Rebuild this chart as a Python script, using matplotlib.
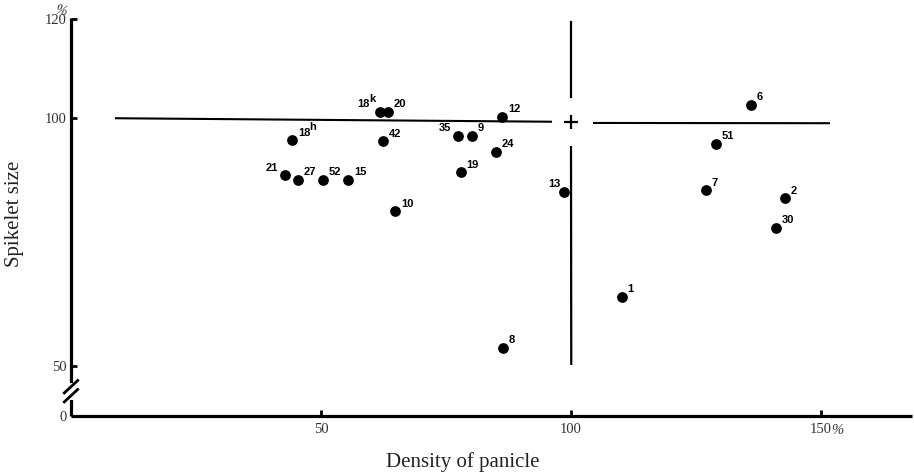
import matplotlib
matplotlib.use('Agg')
import matplotlib.pyplot as plt

# density of panicle (%) and spikelet size (%) for each line
names = ['18', '21', '27', '52', '15', '18', '20', '42', '10', '35', '9',
         '12', '24', '19', '8', '13', '1', '6', '51', '7', '2', '30']
sups = ['h', '', '', '', '', 'k', '', '', '', '', '',
        '', '', '', '', '', '', '', '', '', '', '']
density = [44.2, 42.7, 45.3, 50.3, 55.4, 61.8, 63.4, 62.4, 64.8, 77.3, 80.2,
           86.2, 84.9, 77.9, 86.3, 98.5, 110.1, 135.9, 128.9, 126.9, 142.7, 140.9]
spikelet = [95.6, 88.5, 87.6, 87.6, 87.6, 101.3, 101.3, 95.4, 81.3, 96.5, 96.5,
            100.3, 93.2, 89.1, 53.8, 85.2, 64.0, 102.7, 94.9, 85.5, 83.9, 77.9]
# labels written on the left side of the dot
left_side = [False, True, False, False, False, True, False, False, False, True, False,
             False, False, False, False, True, False, False, False, False, False, False]

# reference cross at 100 / 100
ref_left_x = [9, 96]
ref_left_y = [100, 99.3]
ref_right_x = [104.6, 151.6]
ref_right_y = [99.05, 99.0]
ref_up_y = [119.3, 104.3]
ref_down_y = [94.2, 50.5]
ref_centre = (100, 99.3)

xticks = [50, 100, 150]
xticklabels = ['50', '100', '150']
yticks = [40, 50, 100, 120]
yticklabels = ['0', '50', '100', '120']

W, H = 914, 476
fig = plt.figure(figsize=(W / 100, H / 100), dpi=100)
ax = fig.add_axes([71 / W, 60 / H, (912 - 71) / W, 398 / H])
ax.set_xlim(0, 168.2)
ax.set_ylim(40, 120.2)

for s in ['top', 'right']:
    ax.spines[s].set_visible(False)
for s in ['left', 'bottom']:
    ax.spines[s].set_linewidth(2.3)
    ax.spines[s].set_capstyle('butt')

ax.plot(ref_left_x, ref_left_y, color='black', lw=1.5)
ax.plot(ref_right_x, ref_right_y, color='black', lw=1.5)
ax.plot([100, 100], ref_up_y, color='black', lw=1.6)
ax.plot([100, 100.05], ref_down_y, color='black', lw=1.6)
ax.plot([ref_centre[0]], [ref_centre[1]], marker='+', ms=10, mew=1.6, color='black')

ax.scatter(density, spikelet, s=60, color='black', zorder=3, linewidths=0)

lab_kw = dict(textcoords='offset pixels', va='bottom', fontsize=8,
              fontweight='bold', family='Liberation Sans')
for name, sup, x, y, left in zip(names, sups, density, spikelet, left_side):
    if left:
        dx = -3 if name == '13' else -6
        if sup:
            ax.annotate(sup, (x, y), xytext=(dx + 1, 8), ha='right', **lab_kw)
            dx -= 4
        ax.annotate(name, (x, y), xytext=(dx, 2.5), ha='right', **lab_kw)
    else:
        ax.annotate(name, (x, y), xytext=(6, 2.5), ha='left', **lab_kw)
        if sup:
            w = 5.6 * len(name)
            ax.annotate(sup, (x, y), xytext=(6 + w, 8), ha='left', **lab_kw)

ax.set_xticks(xticks)
ax.set_xticklabels(xticklabels)
ax.set_yticks(yticks)
ax.set_yticklabels(yticklabels)
ax.tick_params(axis='both', direction='in', length=4, width=2, colors='black',
               labelcolor='#333333', labelsize=10.5)
ax.tick_params(axis='x', pad=5)
ax.tick_params(axis='y', pad=3)
ax.yaxis.get_major_ticks()[0].tick1line.set_visible(False)
for lab in ax.get_xticklabels() + ax.get_yticklabels():
    lab.set_family('Liberation Serif')

# percent signs
ax.annotate('%', (150, 40), xytext=(10, -8), textcoords='offset pixels',
            ha='left', va='top', fontsize=10.5, style='italic', color='#333333',
            family='Liberation Serif', annotation_clip=False)
fig.text(61 / W, 1 - 11 / H, '%', ha='center', va='center', fontsize=10,
         style='italic', color='#333333', family='Liberation Serif', rotation=-15)

# axis break on the y axis
ax.plot([0, 0], [43.3, 46.7], color='white', lw=4, clip_on=False, zorder=4,
        solid_capstyle='butt')
for yc in [45.9, 44.1]:
    ax.plot([-1.34, 1.34], [yc - 1.25, yc + 1.25], color='black', lw=2,
            clip_on=False, zorder=5)

fig.text(15 / W, 1 - 214 / H, 'Spikelet size', rotation=90, ha='center',
         va='center', fontsize=15, family='Liberation Serif', color='#222222')
fig.text(463 / W, 1 - 462 / H, 'Density of panicle', ha='center', va='center',
         fontsize=15, family='Liberation Serif', color='#222222')

fig.savefig('out.png', dpi=100)
